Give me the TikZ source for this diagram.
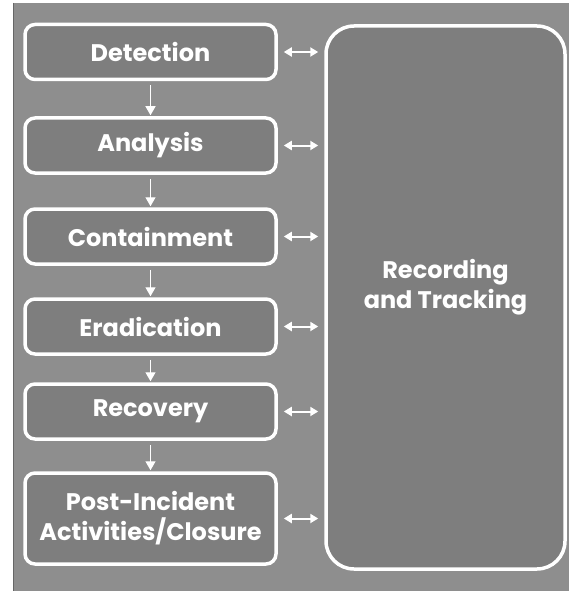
\documentclass[tikz,border=0pt]{standalone}
\usepackage{fontspec}
\setmainfont{Poppins}
\usetikzlibrary{arrows.meta}
\definecolor{bggray}{RGB}{142,142,142}
\definecolor{boxgray}{RGB}{126,126,126}
\tikzset{
  stagebox/.style={draw=white, line width=3.5pt, rounded corners=10pt, fill=boxgray,
    minimum width=251pt, minimum height=55pt, text=white, font=\fontsize{24}{30}\selectfont\bfseries,
    align=center, inner sep=0pt},
  bigbox/.style={draw=white, line width=3.5pt, rounded corners=28pt, fill=boxgray,
    minimum width=239pt, minimum height=543pt, inner sep=0pt},
  bigtext/.style={text=white, font=\fontsize{24}{30}\selectfont\bfseries, align=center, inner sep=0pt},
  downarrow/.style={draw=white, line width=1.2pt, -{Triangle[width=10pt,length=9pt]}, shorten >=1pt, shorten <=4pt},
  botharrow/.style={draw=white, line width=2pt, {Triangle[width=9pt,length=8pt]}-{Triangle[width=9pt,length=8pt]}}
}
\begin{document}
\begin{tikzpicture}[x=1pt,y=-1pt]
\useasboundingbox (0,0) rectangle (569,591);
\fill[white] (0,0) rectangle (569,591);
\fill[bggray] (13,3) rectangle (569,591);
\draw[black!60, line width=1pt] (13.5,3) -- (13.5,591);

\node[stagebox] (det) at (150.5,52) {Detection};
\node[stagebox] (ana) at (150.5,145.5) {Analysis};
\node[stagebox] (con) at (150.5,236.5) {Containment};
\node[stagebox] (era) at (150.5,326.5) {Eradication};
\node[stagebox] (rec) at (150.5,411.5) {Recovery};
\node[stagebox, minimum height=91pt] (post) at (150.5,518.5) {Post-Incident\\Activities/Closure};

\node[bigbox] (rt) at (445.5,297.5) {};
\node[bigtext] (rtext) at (445.5,287) {Recording\\and Tracking};

\draw[downarrow] (det) -- (ana);
\draw[downarrow] (ana) -- (con);
\draw[downarrow] (con) -- (era);
\draw[downarrow] (era) -- (rec);
\draw[downarrow] (rec) -- (post);

\foreach \n in {det,ana,con,era,rec,post}{
  \coordinate (a\n) at ([xshift=6pt]\n.east);
  \coordinate (b\n) at (rt.west |- \n.east);
  \draw[botharrow] (a\n) -- ([xshift=-6pt]b\n);
}
\end{tikzpicture}
\end{document}
